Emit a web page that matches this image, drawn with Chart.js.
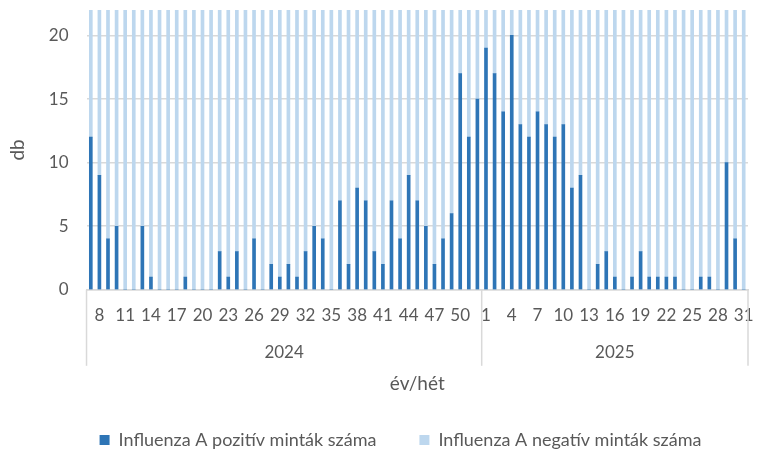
<!DOCTYPE html>
<html>
<head>
<meta charset="utf-8">
<script src="https://cdn.jsdelivr.net/npm/chart.js@4"></script>
<style>
  html, body { margin: 0; padding: 0; background: #fff; }
  #wrap { width: 758px; height: 457px; }
</style>
</head>
<body>
<div id="wrap"><canvas id="myChart" width="758" height="457"></canvas></div>
<script>
// weeks 2024/7 .. 2025/31
const weeks = [
    7, 8, 9, 10, 11, 12, 13, 14, 15, 16, 17, 18, 19, 20, 21, 22, 23, 24, 25, 26, 27, 28, 29,
    30, 31, 32, 33, 34, 35, 36, 37, 38, 39, 40, 41, 42, 43, 44, 45, 46, 47, 48, 49, 50, 51, 52,
    1, 2, 3, 4, 5, 6, 7, 8, 9, 10, 11, 12, 13, 14, 15, 16, 17, 18, 19, 20, 21, 22, 23, 24, 25,
    26, 27, 28, 29, 30, 31
];
const years = ['2024', '2025'];
const weeksPerYear = [46, 31];

const positive = [
    12, 9, 4, 5, 0, 0, 5, 1, 0, 0, 0, 1, 0, 0, 0, 3, 1, 3, 0, 4, 0, 2, 1,
    2, 1, 3, 5, 4, 0, 7, 2, 8, 7, 3, 2, 7, 4, 9, 7, 5, 2, 4, 6, 17, 12, 15,
    19, 17, 14, 20, 13, 12, 14, 13, 12, 13, 8, 9, 0, 2, 3, 1, 0, 1, 3, 1, 1, 1, 1, 0, 0,
    1, 1, 0, 10, 4, 0
];
// negative counts run past the top of the axis, so these are rough guesses
const negative = [
    48, 52, 55, 50, 47, 45, 44, 46, 41, 43, 38, 36, 35, 33, 30, 32, 34, 31, 29, 33, 35, 36, 38,
    37, 40, 39, 42, 44, 41, 45, 47, 46, 49, 51, 48, 50, 53, 55, 57, 60, 58, 62, 65, 68, 70, 72,
    75, 78, 80, 76, 73, 70, 68, 66, 63, 60, 58, 55, 52, 50, 48, 46, 44, 42, 40, 41, 39, 37, 36, 35, 34,
    33, 35, 36, 38, 40, 42
];

const textColor = '#595959';
const gridColor = '#D9D9D9';
const fontFamily = 'Lato, "Liberation Sans", sans-serif';

// second row of the x axis: year groups with separators
const yearGroups = {
    id: 'yearGroups',
    afterDraw(chart) {
        const c = chart.ctx;
        const x = chart.scales.x;
        const area = chart.chartArea;
        const bottom = area.bottom + 76;
        let edges = [area.left];
        let start = 0;
        weeksPerYear.forEach((n, i) => {
            const end = start + n - 1;
            let right = (end === weeks.length - 1)
                ? area.right
                : (x.getPixelForValue(end) + x.getPixelForValue(end + 1)) / 2;
            edges.push(right);
            const left = edges[i];
            c.save();
            c.fillStyle = textColor;
            c.font = '17px ' + fontFamily;
            c.textAlign = 'center';
            c.textBaseline = 'middle';
            c.fillText(years[i], (left + right) / 2, area.bottom + 63);
            c.restore();
            start += n;
        });
        c.save();
        c.strokeStyle = gridColor;
        c.lineWidth = 1.5;
        edges.forEach(ex => {
            c.beginPath();
            c.moveTo(ex, area.bottom);
            c.lineTo(ex, bottom);
            c.stroke();
        });
        c.restore();
    }
};

const ctx = document.getElementById('myChart').getContext('2d');

const myChart = new Chart(ctx, {
    type: 'bar',
    data: {
        labels: weeks,
        datasets: [{
            label: 'Influenza A pozitív minták száma',
            data: positive,
            backgroundColor: '#2E75B6',
            barThickness: 3
        }, {
            label: 'Influenza A negatív minták száma',
            data: negative,
            backgroundColor: '#BDD7EE',
            barThickness: 3
        }]
    },
    options: {
        responsive: false,
        animation: false,
        devicePixelRatio: 1,
        layout: {
            // negative right padding only shifts the legend; the x scale keeps a 10px margin
            padding: { left: 6, right: -37, top: 10, bottom: -2 }
        },
        plugins: {
            legend: {
                position: 'bottom',
                labels: {
                    boxWidth: 10,
                    boxHeight: 10,
                    padding: 43,
                    color: textColor,
                    font: { family: fontFamily, size: 18 }
                }
            },
            tooltip: { enabled: false }
        },
        scales: {
            x: {
                stacked: true,
                afterFit: function (scale) {
                    scale.paddingLeft = 0;
                    scale.paddingRight = 10;
                },
                grid: { display: false, drawTicks: false },
                border: { display: true, color: gridColor, width: 1.5 },
                ticks: {
                    autoSkip: false,
                    maxRotation: 0,
                    padding: 16,
                    color: textColor,
                    font: { family: fontFamily, size: 17 },
                    callback: function (val, i) {
                        return i % 3 === 1 ? weeks[i] : '';
                    }
                },
                title: {
                    display: true,
                    text: 'év/hét',
                    color: textColor,
                    font: { family: fontFamily, size: 19 },
                    padding: { top: 30, bottom: -7 }
                }
            },
            y: {
                stacked: true,
                min: 0,
                max: 22,
                afterFit: function (scale) {
                    scale.paddingTop = 0;
                    scale.paddingBottom = 0;
                },
                border: { display: false },
                grid: { color: gridColor, lineWidth: 1.5, drawTicks: false },
                ticks: {
                    stepSize: 5,
                    includeBounds: false,
                    padding: 18,
                    color: textColor,
                    font: { family: fontFamily, size: 17 }
                },
                title: {
                    display: true,
                    text: 'db',
                    color: textColor,
                    font: { family: fontFamily, size: 19 },
                    padding: { top: 0, bottom: 2 }
                }
            }
        }
    },
    plugins: [yearGroups]
});
</script>
</body>
</html>
